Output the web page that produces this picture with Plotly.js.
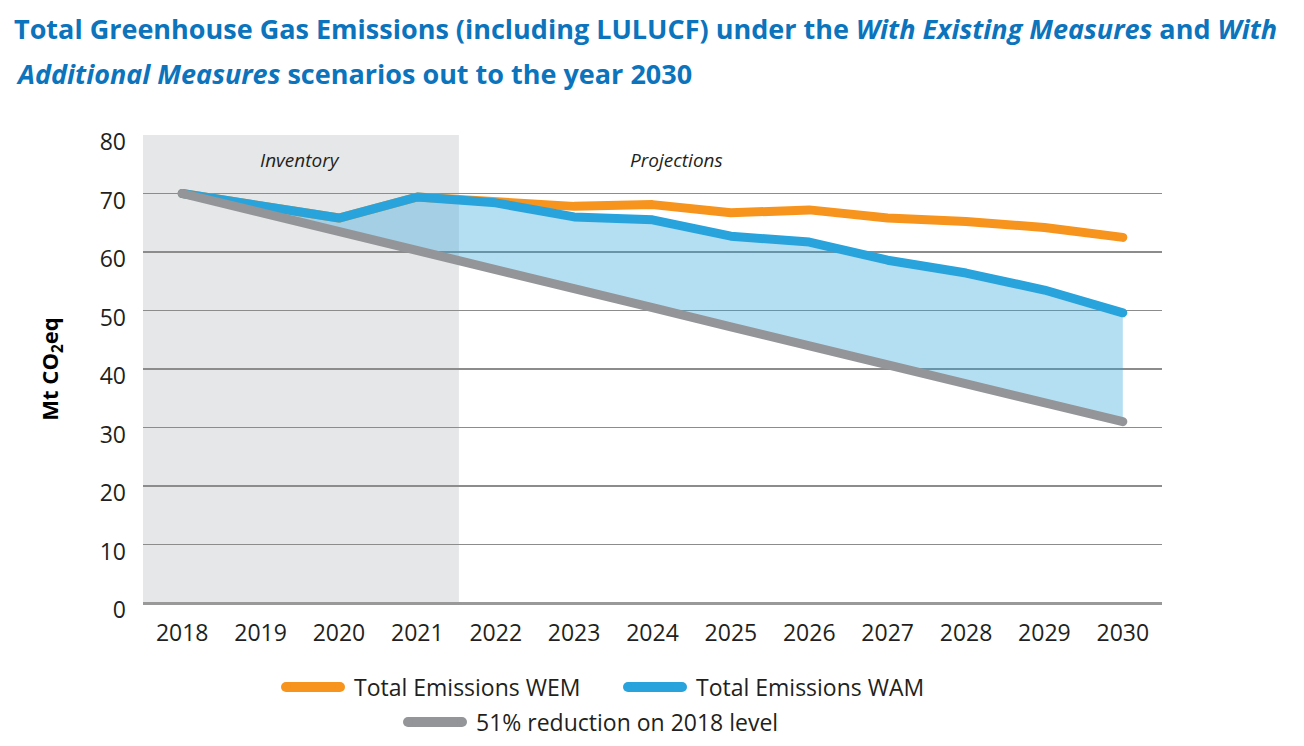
<!DOCTYPE html>
<html>
<head>
<meta charset="utf-8">
<script src="https://cdn.plot.ly/plotly-3.0.1.min.js"></script>
<style>
html,body{margin:0;padding:0;background:#fff;}
#chart{width:1304px;height:746px;}
.scatterlayer path.js-line{stroke-linecap:round;stroke-linejoin:round;}
</style>
</head>
<body>
<div id="chart"></div>
<script>
const years = [2018, 2019, 2020, 2021, 2022, 2023, 2024, 2025, 2026, 2027, 2028, 2029, 2030];
const wem = [70.0, 67.9, 65.8, 69.4, 68.5, 67.8, 68.1, 66.7, 67.2, 65.8, 65.2, 64.2, 62.5];
const wam = [70.0, 67.9, 65.8, 69.4, 68.4, 66.0, 65.5, 62.7, 61.7, 58.6, 56.4, 53.5, 49.6];
const target = [70.0, 66.8, 63.5, 60.2, 57.0, 53.7, 50.5, 47.2, 44.0, 40.7, 37.5, 34.2, 31.0];
const seriesNames = ["Total Emissions WEM", "Total Emissions WAM", "51% reduction on 2018 level"];
const periodLabels = ["Inventory", "Projections"];
const inventoryEnd = 2021.53;

const cOrange = "#f7941d", cBlue = "#29a3dc", cGray = "#939598";
const txt = "#231f20";
const titleBlue = "#0b74bc";
const FONT = "Open Sans, sans-serif";

const data = [
  {x: years, y: target, mode: "lines", line: {width: 0, color: cGray}, hoverinfo: "skip", showlegend: false},
  {x: years, y: wam, mode: "lines", fill: "tonexty", fillcolor: "rgba(41,163,220,0.35)", line: {width: 0, color: cBlue}, hoverinfo: "skip", showlegend: false},
  {x: years, y: wem, name: seriesNames[0], mode: "lines", line: {width: 9, color: cOrange}, showlegend: false},
  {x: years, y: wam, name: seriesNames[1], mode: "lines", line: {width: 9, color: cBlue}, showlegend: false},
  {x: years, y: target, name: seriesNames[2], mode: "lines", line: {width: 9, color: cGray}, showlegend: false}
];

const W = 1304, H = 746;
const L = 143, R = 1162, T = 135, B = 603;
// paper coords span the plot area
const px = v => (v - L) / (R - L);
const py = v => (B - v) / (B - T);

const legendItems = [
  {name: seriesNames[0], color: cOrange, lx0: 286, lx1: 340, ty: 687, tx: 352},
  {name: seriesNames[1], color: cBlue, lx0: 628, lx1: 682, ty: 687, tx: 694},
  {name: seriesNames[2], color: cGray, lx0: 408, lx1: 462, ty: 722, tx: 474}
];

const shapes = [
  {type: "rect", xref: "x", yref: "y", x0: 2017.5, x1: inventoryEnd, y0: 0, y1: 80, fillcolor: "#e6e7e8", line: {width: 0}, layer: "below"}
];
const annotations = [
  {text: "<b><i>Additional Measures</i> scenarios out to the year 2030</b>", xref: "paper", yref: "paper", x: px(14), y: py(73), xanchor: "left", yanchor: "middle", showarrow: false, font: {family: FONT, size: 27, color: titleBlue}},
  {text: "<i>" + periodLabels[0] + "</i>", xref: "x", yref: "paper", x: 2019.5, y: py(160), xanchor: "center", yanchor: "middle", showarrow: false, font: {family: FONT, size: 19, color: txt}},
  {text: "<i>" + periodLabels[1] + "</i>", xref: "x", yref: "paper", x: 2024.3, y: py(160), xanchor: "center", yanchor: "middle", showarrow: false, font: {family: FONT, size: 19, color: txt}}
];
legendItems.forEach(it => {
  shapes.push({type: "line", xref: "paper", yref: "paper", x0: px(it.lx0), x1: px(it.lx1), y0: py(it.ty), y1: py(it.ty), line: {color: it.color, width: 10}});
  [it.lx0, it.lx1].forEach(cx => shapes.push({type: "circle", xref: "paper", yref: "paper", xsizemode: "pixel", ysizemode: "pixel", xanchor: px(cx), yanchor: py(it.ty), x0: -5, x1: 5, y0: -5, y1: 5, fillcolor: it.color, line: {width: 0}}));
  annotations.push({text: it.name, xref: "paper", yref: "paper", x: px(it.tx), y: py(it.ty), xanchor: "left", yanchor: "middle", showarrow: false, font: {family: FONT, size: 23, color: txt}});
});

const layout = {
  width: W, height: H,
  margin: {l: L, r: W - R, t: T, b: H - B},
  paper_bgcolor: "#fff", plot_bgcolor: "rgba(0,0,0,0)",
  font: {family: FONT, color: txt},
  title: {text: "<b>Total Greenhouse Gas Emissions (including LULUCF) under the <i>With Existing Measures</i> and <i>With</i></b>", xref: "container", yref: "container", x: 14 / W, xanchor: "left", y: 1 - 30 / H, yanchor: "middle", font: {family: FONT, size: 27, color: titleBlue}},
  xaxis: {range: [2017.5, 2030.5], tickvals: years, ticktext: years.map(String), showgrid: false, zeroline: false, showline: false, ticks: "", ticklabelstandoff: 14, tickfont: {size: 23, color: txt, family: FONT}, fixedrange: true},
  yaxis: {range: [0, 80], dtick: 10, showgrid: true, gridcolor: "#8c8c8c", gridwidth: 1.5, zeroline: true, zerolinecolor: "#999", zerolinewidth: 3, ticks: "", ticklabelstandoff: 16, ticklabelshift: 7, tickfont: {size: 23, color: txt, family: FONT},
    title: {text: "<b>Mt CO<sub>2</sub>eq</b>", font: {size: 22, color: "#000", family: FONT}, standoff: 34}, fixedrange: true},
  shapes: shapes,
  annotations: annotations,
  showlegend: false
};

Plotly.newPlot("chart", data, layout, {displayModeBar: false, staticPlot: true});
</script>
</body>
</html>
